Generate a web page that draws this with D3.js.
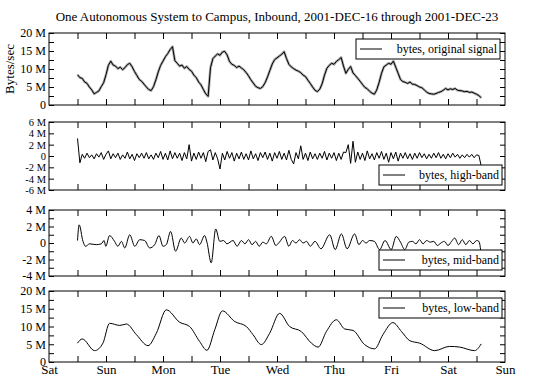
<!DOCTYPE html>
<html>
<head>
<meta charset="utf-8">
<script src="https://cdn.jsdelivr.net/npm/d3@7"></script>
<style>
  body { margin: 0; background: #fff; }
  text { font-family: "Liberation Serif", "Times New Roman", "DejaVu Serif", serif; fill: #000; }
</style>
</head>
<body>
<svg id="chart" width="536" height="387"></svg>
<script>
// day names on the bottom axis (Sat 00:00 .. next Sun 00:00)
const dayLabels = ["Sat", "Sun", "Mon", "Tue", "Wed", "Thu", "Fri", "Sat", "Sun"];

// hourly samples, first one at hour 12 (Sat noon), values in M bytes/sec
const firstHour = 12;
const original = [
  8.4, 7.6, 7.4, 6.4, 6.0, 5.0, 4.2, 3.1, 3.5, 3.9, 5.1, 6.2,
  8.4, 11.0, 12.2, 11.1, 10.8, 10.1, 10.5, 9.8, 10.4, 11.2, 11.6, 10.6,
  9.3, 8.2, 7.1, 6.6, 5.8, 5.0, 4.3, 4.0, 5.1, 7.0, 9.2, 11.0,
  12.2, 13.4, 14.3, 15.4, 16.2, 12.3, 11.6, 10.8, 11.1, 10.2, 10.7, 9.9,
  9.4, 8.3, 7.6, 6.4, 5.6, 4.3, 3.1, 2.4, 10.4, 12.9, 13.6, 14.2,
  13.8, 14.7, 14.9, 13.9, 12.1, 11.3, 11.0, 10.4, 10.8, 10.3, 9.8, 9.0,
  8.1, 7.0, 6.1, 5.2, 4.8, 4.6, 5.1, 6.2, 7.8, 9.6, 11.4, 12.6,
  13.1, 13.6, 14.1, 14.8, 12.9, 11.3, 10.6, 10.1, 9.7, 9.4, 9.0, 8.3,
  7.9, 6.9, 6.0, 5.0, 4.1, 3.7, 4.4, 5.9, 8.3, 10.2, 11.0, 11.6,
  11.3, 12.1, 12.6, 13.2, 10.8, 8.8, 9.9, 10.7, 8.9, 8.2, 7.4, 6.6,
  5.7, 4.9, 4.5, 3.8, 3.3, 3.0, 4.2, 6.3, 8.8, 10.6, 11.1, 11.6,
  11.3, 12.2, 10.5, 8.8, 7.1, 6.5, 6.3, 6.0, 6.4, 5.8, 5.7, 5.4,
  5.0, 4.8, 4.2, 3.6, 3.2, 3.1, 3.0, 3.2, 3.5, 3.7, 4.1, 4.6,
  4.2, 4.5, 4.3, 4.6, 4.1, 4.0, 3.9, 3.7, 3.8, 3.5, 3.6, 3.3,
  3.0, 2.6, 2.0
];
const highBand = [
  3.1, -1.2, 0.3, -0.4, 0.5, -0.3, 0.2, -0.5, 0.4, -0.2, 0.6, -0.6,
  0.3, 0.9, -0.5, 0.4, -0.3, 0.5, -0.6, 0.2, -0.4, 0.7, -0.5, 0.3,
  -0.8, 0.4, -0.3, 0.5, -0.4, 0.6, -0.5, 0.2, -0.6, 0.5, -0.3, 0.8,
  -0.6, 0.5, -0.7, 0.9, -0.5, 0.6, -0.4, 0.5, -0.8, 0.6, -0.5, 2.0,
  -0.9, 0.5, -0.6, 0.7, -0.4, 0.6, -1.0, 0.8, 1.1, -0.7, 0.6, -0.5,
  -2.3, 0.5, -0.7, 0.8, -0.4, 0.6, -0.9, 0.5, -0.5, 0.7, -0.6, 0.4,
  -0.7, 0.9, -0.5, 0.4, -0.8, 0.6, -0.3, 0.7, -0.6, 0.5, -0.9, 0.6,
  -0.4, 0.8, -0.6, 0.5, -0.7, 1.0, -0.6, -1.4, 0.6, -0.5, 1.8, -0.6,
  0.5, -0.8, 0.7, -0.5, 0.4, -0.6, 0.5, -0.4, 0.8, -0.7, 0.5, -0.4,
  0.6, -0.8, 0.5, -0.6, 0.7, 0.6, 2.0, -1.3, 2.6, -1.1, 0.7, -0.6,
  0.5, -0.8, 0.9, -0.5, 0.4, -0.7, 0.6, -0.4, 0.8, -0.6, 0.5, -1.1,
  0.6, -0.5, 0.7, -0.9, 0.5, -0.4, 0.6, -0.5, 0.4, -0.6, 0.5, -0.4,
  0.6, -0.3, 0.4, -0.5, 0.3, -0.4, 0.5, -0.3, 0.6, -0.4, 0.3, -0.5,
  0.4, -0.3, 0.5, -0.2, 0.3, -0.4, 0.2, -0.3, 0.3, -0.2, 0.3, -0.3,
  0.2, 0.1, -1.8
];

// smooth bands: turning points (hour, value)
const midHours = [12.0, 12.7, 14.3, 15.4, 17.1, 19.9, 22.0, 23.2, 23.9, 25.5, 27.6, 29.0, 30.5, 31.9, 34.0,
  36.1, 38.2, 40.3, 42.4, 44.5, 46.3, 48.0, 49.4, 51.2, 53.3, 55.7, 57.1, 59.2, 60.6, 62.0, 63.4, 65.5,
  66.5, 68.3, 70.2, 71.9, 73.5, 74.9, 77.5, 79.2, 81.0, 82.5, 84.0, 85.5, 87.0, 88.5, 90.0, 91.5, 93.6,
  95.5, 97.0, 99.2, 101.0, 102.5, 104.0, 105.5, 107.0, 108.5, 110.0, 112.0, 114.5, 118.2, 120.5, 123.1,
  125.5, 128.7, 130.5, 132.0, 133.5, 135.0, 137.0, 139.2, 141.5, 144.1, 146.2, 148.0, 149.8, 151.5, 153.0,
  154.5, 156.0, 157.5, 159.0, 160.5, 162.0, 163.5, 165.0, 166.5, 168.0, 169.5, 170.8, 172.5, 174.0, 175.5,
  177.0, 178.5, 180.0, 181.0, 182.0];
const midValues = [0.3, 2.2, 0.2, -0.4, -0.1, -0.2, -0.1, 0.3, -0.4, 0.9, 0.2, -0.4, 0.2, -0.6, 1.0,
  -0.4, 0.4, 0.3, -0.6, -0.2, 0.9, -0.4, -0.2, 1.4, -1.0, 0.6, 0.0, 0.8, 0.0, 0.5, -0.2, 0.9,
  0.1, -2.4, 1.7, 0.2, 0.3, -0.1, 0.3, -0.4, 0.3, -0.1, 0.4, -0.2, 0.2, -0.4, 0.1, -0.1, 0.8,
  -0.3, 0.1, 0.8, -0.4, 0.3, 0.0, 0.4, 0.0, 0.2, -0.4, 0.2, -0.7, 1.0, -0.8, 1.1,
  -0.7, 1.1, -0.2, 0.3, 0.0, 0.3, 0.2, -0.8, 0.3, -0.8, 0.8, 0.1, -0.8, 0.1, 0.2,
  -0.1, 0.4, -0.1, 0.3, 0.1, 0.2, -0.3, 0.0, 0.2, -0.3, 0.2, 0.6, -0.2, 0.4, -0.2,
  0.3, -0.1, 0.3, 0.2, -1.4];

const lowHours = [12.0, 14.0, 19.2, 22.7, 25.5, 29.8, 32.6, 36.8, 41.7, 45.2, 49.4, 55.0, 59.2, 63.4, 66.5,
  69.8, 73.0, 78.2, 83.1, 85.9, 89.4, 92.9, 97.1, 101.3, 106.2, 110.5, 113.3, 116.8, 121.0, 124.5,
  128.0, 132.9, 137.1, 140.6, 144.8, 148.4, 151.9, 156.1, 162.4, 168.7, 172.9, 179.2, 182.0];
const lowValues = [5.3, 6.5, 3.2, 5.3, 10.9, 10.3, 10.7, 7.7, 4.6, 8.1, 14.7, 11.2, 10.0, 5.8, 3.3,
  9.1, 14.4, 11.4, 10.0, 7.7, 4.9, 8.1, 13.7, 10.0, 8.6, 5.3, 4.2, 8.6, 11.9, 9.3,
  8.9, 4.9, 3.7, 7.7, 11.1, 8.6, 6.0, 5.3, 3.2, 4.4, 4.2, 3.2, 5.1];

const svg = d3.select("#chart");
const left = 49, right = 505;
const x = d3.scaleLinear().domain([0, 192]).range([left, right]);
const halfDays = d3.range(12, 192, 12);
const fmt = v => v === 0 ? "0" : v + " M";

const hourly = arr => arr.map((v, i) => [firstHour + i, v]);
const paired = (hs, vs) => hs.map((h, i) => [h, vs[i]]);

const panels = [
  {top: 33, bottom: 105, domain: [0, 20], labels: [0, 5, 10, 15, 20], minor: d3.range(0, 20.1, 2.5), fs: 12,
   data: hourly(original), curve: d3.curveLinear, legend: "bytes, original signal", lx: 356, ly: 39, lw: 144, halo: true},
  {top: 122, bottom: 190, domain: [-6, 6], labels: [-6, -4, -2, 0, 2, 4, 6], minor: d3.range(-6, 6.1, 2), fs: 10.5,
   data: hourly(highBand), curve: d3.curveLinear, legend: "bytes, high-band", lx: 379, ly: 165, lw: 123},
  {top: 210, bottom: 276, domain: [-4, 4], labels: [-4, -2, 0, 2, 4], minor: d3.range(-4, 4.1, 1), fs: 12,
   data: paired(midHours, midValues), curve: d3.curveMonotoneX, legend: "bytes, mid-band", lx: 379, ly: 250, lw: 123},
  {top: 291, bottom: 362, domain: [0, 20], labels: [0, 5, 10, 15, 20], minor: d3.range(0, 20.1, 2.5), fs: 12,
   data: paired(lowHours, lowValues), curve: d3.curveMonotoneX, legend: "bytes, low-band", lx: 379, ly: 298, lw: 123}
];

panels.forEach((p, idx) => {
  const y = d3.scaleLinear().domain(p.domain).range([p.bottom, p.top]);
  const g = svg.append("g");

  // inward ticks on all four sides
  g.append("g").attr("transform", `translate(0,${p.bottom})`)
    .call(d3.axisTop(x).tickValues(halfDays).tickSize(6).tickFormat(""));
  g.append("g").attr("transform", `translate(0,${p.top})`)
    .call(d3.axisBottom(x).tickValues(halfDays).tickSize(6).tickFormat(""));
  g.append("g").attr("transform", `translate(${left},0)`)
    .call(d3.axisRight(y).tickValues(p.minor).tickSize(5).tickFormat(""));
  g.append("g").attr("transform", `translate(${right},0)`)
    .call(d3.axisLeft(y).tickValues(p.minor).tickSize(5).tickFormat(""));
  // tick labels
  g.append("g").attr("transform", `translate(${left},0)`)
    .call(d3.axisLeft(y).tickValues(p.labels).tickSize(0).tickPadding(3).tickFormat(fmt))
    .call(a => a.selectAll("text").style("font-size", p.fs + "px"));
  g.selectAll(".domain").remove();
  g.selectAll(".tick line").attr("stroke", "#000");

  const line = d3.line().x(d => x(d[0])).y(d => y(d[1])).curve(p.curve);
  if (p.halo) {
    g.append("path").datum(p.data).attr("d", line)
      .attr("fill", "none").attr("stroke", "#aaa").attr("stroke-width", 2.6).attr("stroke-linejoin", "round");
  }
  g.append("path").datum(p.data).attr("d", line)
    .attr("fill", "none").attr("stroke", "#000").attr("stroke-width", 1);

  // frame
  g.append("rect").attr("x", left).attr("y", p.top)
    .attr("width", right - left).attr("height", p.bottom - p.top)
    .attr("fill", "none").attr("stroke", "#000");

  // legend
  const lg = g.append("g");
  lg.append("rect").attr("x", p.lx).attr("y", p.ly).attr("width", p.lw).attr("height", 20)
    .attr("fill", "#fff").attr("stroke", "#000");
  lg.append("line").attr("x1", p.lx + 4).attr("x2", p.lx + 26)
    .attr("y1", p.ly + 10).attr("y2", p.ly + 10).attr("stroke", "#000");
  lg.append("text").attr("x", p.lx + p.lw - 3).attr("y", p.ly + 14)
    .attr("text-anchor", "end").style("font-size", "12px").text(p.legend);

  if (idx === panels.length - 1) {
    svg.append("g").attr("transform", `translate(0,${p.bottom})`)
      .call(d3.axisBottom(x).tickValues(d3.range(0, 193, 24)).tickSize(0).tickPadding(3)
        .tickFormat((d, i) => dayLabels[i]))
      .call(a => a.select(".domain").remove())
      .call(a => a.selectAll("text").style("font-size", "13px"));
  }
});

// title and y axis label
svg.append("text").attr("x", 277).attr("y", 21).attr("text-anchor", "middle")
  .style("font-size", "13px").text("One Autonomous System to Campus, Inbound, 2001-DEC-16 through 2001-DEC-23");
svg.append("text").attr("transform", "translate(14,69) rotate(-90)").attr("text-anchor", "middle")
  .style("font-size", "13px").text("Bytes/sec");
</script>
</body>
</html>
